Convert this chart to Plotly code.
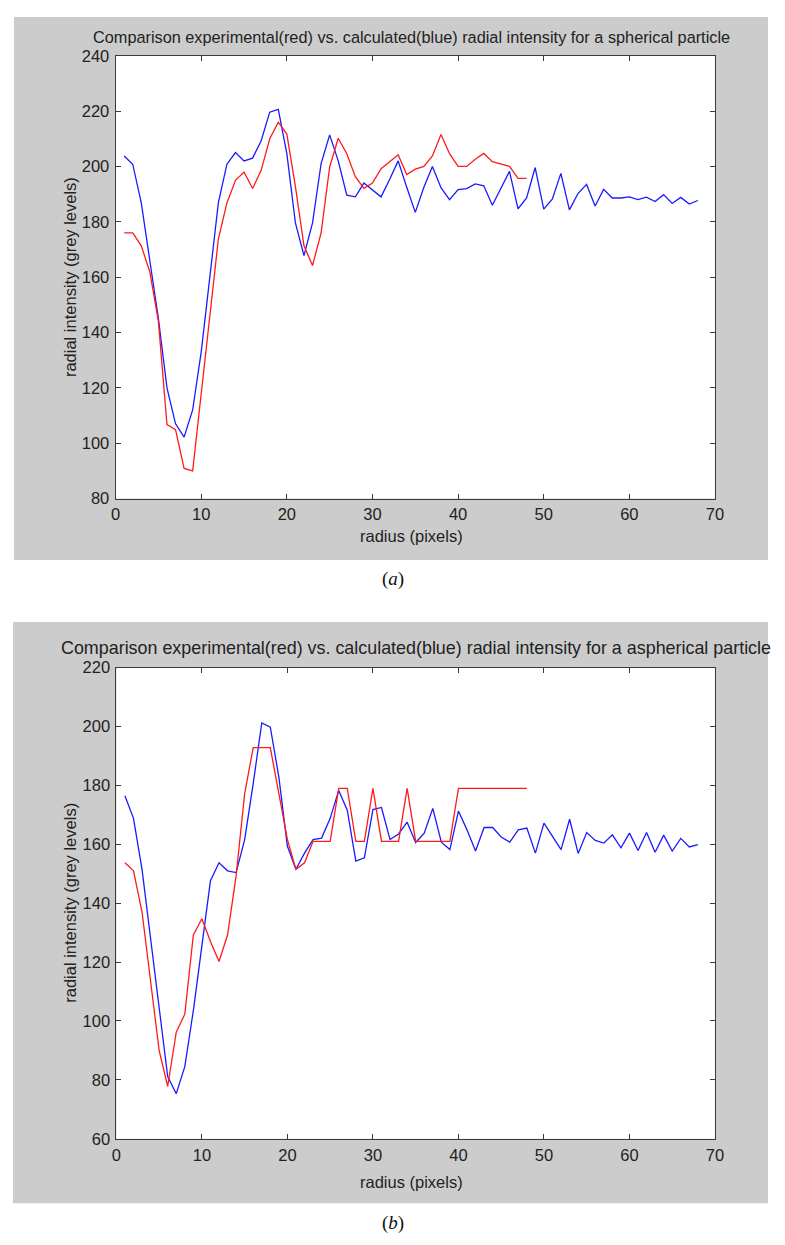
import plotly.graph_objects as go

# ---------------- data ----------------
radius_a_blue = list(range(1, 69))
intensity_a_blue = [203.8, 200.8, 186.8, 166.6, 145, 120, 107, 102.2, 112, 133,
                    160.7, 186.8, 200.8, 205, 202, 203, 209.3, 219.6, 220.6, 204.6,
                    179.6, 167.8, 179.6, 201, 211.4, 202, 189.6, 189, 194, 191.5,
                    189, 195.3, 202, 192.5, 183.4, 192.5, 200, 192.3, 188, 191.6,
                    192, 193.7, 193, 186, 192, 198.2, 184.7, 188.6, 199.6, 184.6,
                    188.2, 197.5, 184.3, 190.2, 193.5, 185.7, 191.7, 188.6, 188.6, 189,
                    188, 188.9, 187.3, 189.8, 186.6, 188.8, 186.4, 187.7]
radius_a_red = list(range(1, 49))
intensity_a_red = [176, 176, 171.3, 161.9, 144, 106.7, 104.9, 90.9, 90, 118,
                   147.6, 173.7, 186.8, 195, 198, 192, 198.6, 210, 216, 211.7,
                   192.7, 171.3, 164.2, 176, 199.8, 210.2, 204.6, 196.3, 192.1, 194,
                   199.2, 201.6, 204.2, 197.1, 199, 200, 203.8, 211.5, 204.6, 200,
                   200, 202.6, 204.7, 201.7, 200.8, 200, 195.7, 195.7]

radius_b_blue = list(range(1, 69))
intensity_b_blue = [176.5, 168.8, 151.5, 128, 105.7, 81.1, 75.3, 84.5, 103.5, 125.8,
                    147.6, 153.7, 151, 150.4, 161.6, 180.6, 201.2, 199.8, 182.8, 159.3,
                    151.5, 157, 161.6, 162.1, 168.8, 178.3, 171.6, 154.3, 155.4, 171.8,
                    172.5, 161.6, 163.5, 167.5, 160.6, 163.8, 172.2, 160.7, 158.2, 171.3,
                    164.9, 157.7, 165.7, 165.7, 162.5, 160.7, 164.9, 165.5, 157, 167.2,
                    162.7, 158.2, 168.5, 156.9, 164, 161.3, 160.4, 163.2, 158.8, 163.8,
                    157.9, 164, 157.3, 163.1, 157.7, 162, 159.1, 159.9]
radius_b_red = list(range(1, 49))
intensity_b_red = [153.7, 151, 137, 113.5, 90, 77.8, 96.2, 102.3, 129.2, 134.7,
                   127, 120.2, 129.2, 149.3, 177.2, 192.8, 192.8, 192.8, 177.2, 161.6,
                   151.5, 153.7, 161, 161, 161, 179, 179, 161, 161, 179,
                   161, 161, 161, 179, 161, 161, 161, 161, 161, 179,
                   179, 179, 179, 179, 179, 179, 179, 179]

x_ticks = [0, 10, 20, 30, 40, 50, 60, 70]
y_ticks_a = [80, 100, 120, 140, 160, 180, 200, 220, 240]
y_ticks_b = [60, 80, 100, 120, 140, 160, 180, 200, 220]

title_a = "Comparison experimental(red) vs. calculated(blue) radial intensity for a spherical particle"
title_b = "Comparison experimental(red) vs. calculated(blue) radial intensity for a aspherical particle"
x_label = "radius (pixels)"
y_label = "radial intensity (grey levels)"

# ---------------- layout helpers ----------------
# page body keeps its default 8px margin, so the figure is 16px smaller than the window
OFF = 8
W, H = 785 - 2 * OFF, 1245 - 2 * OFF
def px(x):
    return min(max((x - OFF) / W, 0), 1)
def py(y):
    return min(max(1 - (y - OFF) / H, 0), 1)

FONT = "Liberation Sans, Arial, sans-serif"
AX_COLOR = "#3a3a3a"
GREY = "#cccccc"
TXT = "#222222"

fig = go.Figure()
line_w = 1.3
fig.add_trace(go.Scatter(x=radius_a_blue, y=intensity_a_blue, mode="lines",
                         line=dict(color="#1a1aff", width=line_w), xaxis="x", yaxis="y", showlegend=False))
fig.add_trace(go.Scatter(x=radius_a_red, y=intensity_a_red, mode="lines",
                         line=dict(color="#ff1a1a", width=line_w), xaxis="x", yaxis="y", showlegend=False))
fig.add_trace(go.Scatter(x=radius_b_blue, y=intensity_b_blue, mode="lines",
                         line=dict(color="#1a1aff", width=line_w), xaxis="x2", yaxis="y2", showlegend=False))
fig.add_trace(go.Scatter(x=radius_b_red, y=intensity_b_red, mode="lines",
                         line=dict(color="#ff1a1a", width=line_w), xaxis="x2", yaxis="y2", showlegend=False))

TICK_SIZE = 16.5

def xaxis(domain, anchor):
    return dict(domain=domain, anchor=anchor, range=[0, 70], tickvals=x_ticks,
                showgrid=False, zeroline=False, showline=True, linecolor=AX_COLOR, linewidth=1,
                mirror="ticks", ticks="inside", ticklen=5, tickcolor=AX_COLOR,
                tickfont=dict(family=FONT, size=TICK_SIZE, color=TXT), ticklabelstandoff=1)

def yaxis(domain, anchor, rng, vals):
    return dict(domain=domain, anchor=anchor, range=rng, tickvals=vals,
                showgrid=False, zeroline=False, showline=True, linecolor=AX_COLOR, linewidth=1,
                mirror="ticks", ticks="inside", ticklen=5, tickcolor=AX_COLOR,
                tickfont=dict(family=FONT, size=TICK_SIZE, color=TXT), ticklabelstandoff=2)

plot_a = (112.5, 47.3, 723, 496.7)
plot_b = (113.3, 668.3, 723, 1146.4)

fig.update_layout(
    width=W, height=H, margin=dict(l=0, r=0, t=0, b=0),
    paper_bgcolor="white", plot_bgcolor="white",
    xaxis=xaxis([px(plot_a[0]), px(plot_a[2])], "y"),
    yaxis=yaxis([py(plot_a[3]), py(plot_a[1])], "x", [80, 240], y_ticks_a),
    xaxis2=xaxis([px(plot_b[0]), px(plot_b[2])], "y2"),
    yaxis2=yaxis([py(plot_b[3]), py(plot_b[1])], "x2", [60, 220], y_ticks_b),
)

# grey figure panels, then white plot areas on top of them (all below traces)
for (x0, y0, x1, y1) in [(9, 5, 785, 559), (8, 622, 785, 1212)]:
    fig.add_shape(type="rect", xref="paper", yref="paper", layer="below",
                  x0=px(x0), x1=px(x1), y0=py(y1), y1=py(y0),
                  fillcolor=GREY, line=dict(width=0))
for (x0, y0, x1, y1) in [plot_a, plot_b]:
    fig.add_shape(type="rect", xref="paper", yref="paper", layer="below",
                  x0=px(x0), x1=px(x1), y0=py(y1), y1=py(y0),
                  fillcolor="white", line=dict(width=0))

def ann(text, x, y, size, angle=0, family=FONT, color=TXT):
    fig.add_annotation(text=text, x=px(x), y=py(y), xref="paper", yref="paper",
                       showarrow=False, textangle=angle, xanchor="center", yanchor="middle",
                       font=dict(family=family, size=size, color=color))

ann(title_a, 414, 28, 16.3)
ann(title_b, 418, 648, 17.9)
ann(x_label, 414, 535, 16.5)
ann(x_label, 414, 1190, 16.5)
ann(y_label, 66, 272, 16.5, angle=-90)
ann(y_label, 66, 907, 16.5, angle=-90)
ann("(<i>a</i>)", 395, 578, 19, family="Liberation Serif, Times New Roman, serif", color="#111111")
ann("(<i>b</i>)", 395, 1232, 19, family="Liberation Serif, Times New Roman, serif", color="#111111")

fig.write_html("out.html", config={"displayModeBar": False, "staticPlot": True})
